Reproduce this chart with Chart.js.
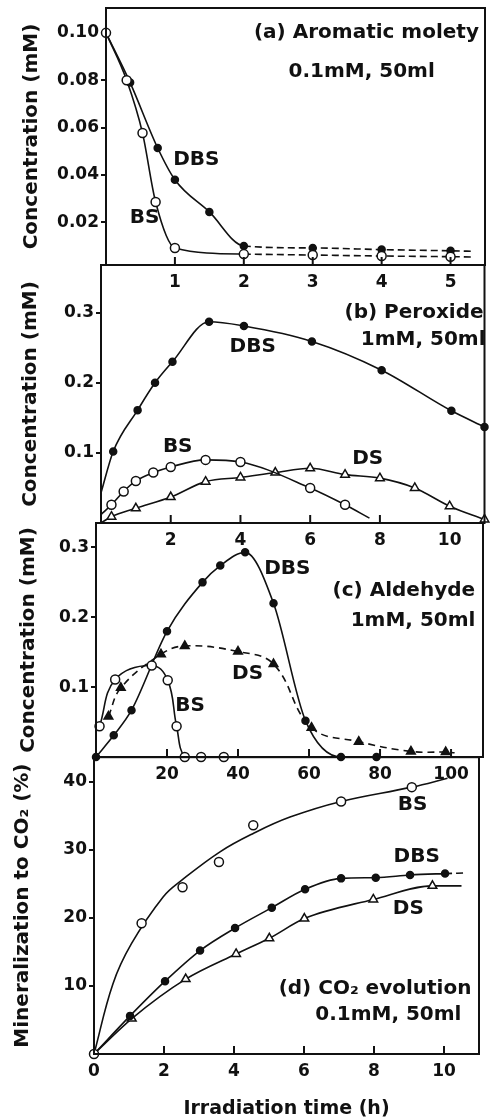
<!DOCTYPE html>
<html>
<head>
<meta charset="utf-8">
<script src="https://cdn.jsdelivr.net/npm/chart.js@4.4.1/dist/chart.umd.min.js"></script>
<style>
html, body { margin: 0; padding: 0; background: #fff; overflow: hidden; }
body { width: 491px; height: 1117px; position: relative; }
.panel { position: absolute; left: 0; width: 491px; }
canvas { display: block; }
</style>
</head>
<body>
<div class="panel" style="top:-5px;height:305px"><canvas id="chA" width="491" height="305"></canvas></div>
<div class="panel" style="top:250px;height:300px"><canvas id="chB" width="491" height="300"></canvas></div>
<div class="panel" style="top:510px;height:280px"><canvas id="chC" width="491" height="280"></canvas></div>
<div class="panel" style="top:745px;height:375px"><canvas id="chD" width="491" height="375"></canvas></div>
<script>
// --- (a) Aromatic moiety, time (h) / conc (mM) ---
const aTimeDBS = [0, 0.35, 0.75, 1, 1.5, 2, 3, 4, 5, 5.3];
const aDBS = [0.100, 0.079, 0.0514, 0.038, 0.0244, 0.0100, 0.0092, 0.0085, 0.0080, 0.0078];
const aTimeBS = [0, 0.3, 0.53, 0.72, 1, 2, 3, 4, 5, 5.3];
const aBS = [0.100, 0.080, 0.0577, 0.0286, 0.0092, 0.0066, 0.0062, 0.0058, 0.0055, 0.0054];
const aTicksX = [1, 2, 3, 4, 5];
const aTicksY = [0.02, 0.04, 0.06, 0.08, 0.10];

// --- (b) Peroxide, time (h) / conc (mM) ---
const bTimeDBS = [0, 0.35, 1.05, 1.55, 2.05, 3.1, 4.1, 6.05, 8.05, 10.05, 11];
const bDBS = [0.043, 0.102, 0.161, 0.200, 0.230, 0.287, 0.281, 0.259, 0.218, 0.160, 0.137];
const bTimeBS = [0, 0.3, 0.65, 1, 1.5, 2, 3, 4, 6, 7, 7.7];
const bBS = [0.012, 0.026, 0.045, 0.060, 0.072, 0.080, 0.090, 0.087, 0.050, 0.026, 0.007];
const bTimeDS = [0, 0.3, 1, 2, 3, 4, 5, 6, 7, 8, 9, 10, 11];
const bDS = [0, 0.009, 0.021, 0.037, 0.059, 0.065, 0.072, 0.078, 0.069, 0.064, 0.050, 0.024, 0.005];
const bTicksX = [2, 4, 6, 8, 10];
const bTicksY = [0.1, 0.2, 0.3];

// --- (c) Aldehyde, time (min) / conc (mM) ---
const cTimeDBS = [0, 5, 10, 20, 30, 35, 42, 50, 59, 69, 79];
const cDBS = [0, 0.031, 0.067, 0.180, 0.250, 0.274, 0.293, 0.220, 0.052, 0, 0];
const cTimeBS = [1, 5.4, 15.7, 20.2, 22.7, 25, 29.6, 36];
const cBS = [0.044, 0.111, 0.131, 0.110, 0.044, 0, 0, 0];
const cTimeDS = [3.5, 7, 18.3, 25, 40, 50, 60.7, 74, 88.7, 98.5, 101];
const cDS = [0.058, 0.099, 0.147, 0.159, 0.151, 0.133, 0.042, 0.022, 0.008, 0.007, 0.006];
const cTicksX = [20, 40, 60, 80, 100];
const cTicksY = [0.1, 0.2, 0.3];

// --- (d) CO2 evolution, time (h) / mineralization (%) ---
const dTimeBS = [0, 1.36, 2.53, 3.57, 4.55, 7.06, 9.08];
const dBS = [0, 19.2, 24.5, 28.2, 33.6, 37.1, 39.2];
// BS fitted curve as drawn (markers scatter around it)
const dFitTimeBS = [0, 0.54, 1.07, 1.98, 2.5, 3.6, 4.55, 5.6, 7.06, 9.08, 10.1];
const dFitBS = [0, 10.3, 16.2, 23.1, 25.5, 29.7, 32.4, 34.8, 37.1, 39.2, 40.5];
const dTimeDBS = [0, 1.03, 2.03, 3.03, 4.03, 5.08, 6.03, 7.06, 8.05, 9.03, 10.03, 10.65];
const dDBS = [0, 5.6, 10.7, 15.2, 18.5, 21.5, 24.2, 25.8, 25.9, 26.3, 26.5, 26.6];
const dTimeDS = [0, 1.08, 2.62, 4.06, 5.01, 6.01, 7.98, 9.67, 10.5];
const dDS = [0, 5.2, 11.0, 14.7, 17.0, 19.9, 22.7, 24.7, 24.7];
const dTicksX = [0, 2, 4, 6, 8, 10];
const dTicksY = [10, 20, 30, 40];

const FONT = '"DejaVu Sans", "Liberation Sans", sans-serif';
const INK = '#111';

// one curve with its markers
function series(xs, ys, mark, opt = {}) {
  const bare = opt.bare || [];
  const r = mark === 'dot' ? 3.5 : mark === 'ring' ? 4.5 : mark === 'none' ? 0 : 5;
  const ds = {
    data: xs.map((t, i) => ({ x: t, y: ys[i] })),
    showLine: !opt.noLine,
    borderColor: INK,
    borderWidth: 1.6,
    borderDash: opt.dash || [],
    pointStyle: (mark === 'tri' || mark === 'solidTri') ? 'triangle' : 'circle',
    pointRadius: c => bare.includes(c.dataIndex) ? 0 : r,
    pointBackgroundColor: (mark === 'dot' || mark === 'solidTri') ? INK : '#fff',
    pointBorderColor: INK,
    pointBorderWidth: 1.5,
    cubicInterpolationMode: opt.smooth ? 'default' : 'monotone',
    tension: 0.4,
    fill: false,
    clip: 10,
  };
  if (opt.dashFrom != null) {
    ds.segment = { borderDash: c => c.p0.parsed.x >= opt.dashFrom ? [7, 4] : undefined };
  }
  return ds;
}

// box + inward ticks on the time axis
const framePlugin = {
  id: 'frame',
  afterDraw(chart) {
    const { ctx, chartArea: a, scales: { x } } = chart;
    ctx.save();
    ctx.strokeStyle = INK;
    ctx.lineWidth = 2;
    ctx.strokeRect(a.left, a.top, a.right - a.left, a.bottom - a.top);
    x.ticks.forEach(t => {
      const px = x.getPixelForValue(t.value);
      ctx.beginPath();
      ctx.moveTo(px, a.bottom);
      ctx.lineTo(px, a.bottom - 8);
      ctx.stroke();
    });
    ctx.restore();
  }
};

// text labels placed in data units
function notes(items) {
  return {
    id: 'notes',
    afterDatasetsDraw(chart) {
      const { ctx, scales: { x, y } } = chart;
      ctx.save();
      ctx.fillStyle = INK;
      ctx.textAlign = 'center';
      ctx.textBaseline = 'middle';
      items.forEach(n => {
        ctx.font = 'bold ' + (n.size || 20) + 'px ' + FONT;
        ctx.fillText(n.text, x.getPixelForValue(n.x), y.getPixelForValue(n.y));
      });
      ctx.restore();
    }
  };
}

function panel(id, o) {
  const cv = document.getElementById(id);
  const tickFont = { family: FONT, size: 17, weight: 'bold' };
  return new Chart(cv, {
    type: 'line',
    data: { datasets: o.datasets },
    options: {
      responsive: false,
      animation: false,
      layout: { padding: { top: o.padTop, right: o.padRight, left: 0, bottom: 0 } },
      plugins: { legend: { display: false }, tooltip: { enabled: false } },
      scales: {
        x: {
          type: 'linear',
          min: o.xMin, max: o.xMax,
          afterBuildTicks: s => { s.ticks = o.xTicks.map(v => ({ value: v })); },
          afterFit: s => { s.height = o.xH; },
          grid: { display: false },
          border: { display: false },
          ticks: { color: INK, font: tickFont, padding: -1, maxRotation: 0, autoSkip: false,
                   callback: v => String(v) },
          title: o.xTitle
            ? { display: true, text: o.xTitle, color: INK, font: { family: FONT, size: 19, weight: 'bold' },
                padding: { top: 0, bottom: 0 } }
            : { display: false }
        },
        y: {
          type: 'linear',
          min: o.yMin, max: o.yMax,
          afterBuildTicks: s => { s.ticks = o.yTicks.map(v => ({ value: v })); },
          afterFit: s => { s.width = o.yW; },
          grid: { display: true, drawOnChartArea: false, tickLength: 5, lineWidth: 2, color: INK },
          border: { display: false },
          ticks: { color: INK, font: tickFont, padding: 2, callback: v => v.toFixed(o.yDec) },
          title: { display: true, text: o.yTitle, color: INK, font: { family: FONT, size: 20, weight: 'bold' },
                   padding: { top: o.yTitlePad, bottom: 0 } }
        }
      }
    },
    plugins: [framePlugin, notes(o.notes)]
  });
}

panel('chA', {
  datasets: [
    series(aTimeBS, aBS, 'ring', { bare: [9], dashFrom: 2 }),
    series(aTimeDBS, aDBS, 'dot', { bare: [9], dashFrom: 2 }),
  ],
  xMin: 0, xMax: 5.5, yMin: 0.002, yMax: 0.1105,
  xTicks: aTicksX, yTicks: aTicksY, yDec: 2,
  padTop: 13, padRight: 4, yW: 106, xH: 35, yTitlePad: 20,
  yTitle: 'Concentration (mM)',
  notes: [
    { text: '(a) Aromatic molety', x: 3.78, y: 0.0999 },
    { text: '0.1mM, 50ml', x: 3.71, y: 0.0834 },
    { text: 'DBS', x: 1.31, y: 0.0463 },
    { text: 'BS', x: 0.56, y: 0.0218 },
  ]
});

panel('chB', {
  datasets: [
    series(bTimeBS, bBS, 'ring', { bare: [0, 10] }),
    series(bTimeDS, bDS, 'tri', { bare: [0] }),
    series(bTimeDBS, bDBS, 'dot', { bare: [0] }),
  ],
  xMin: 0, xMax: 11, yMin: 0, yMax: 0.368,
  xTicks: bTicksX, yTicks: bTicksY, yDec: 1,
  padTop: 15, padRight: 6, yW: 101, xH: 27, yTitlePad: 19,
  yTitle: 'Concentration (mM)',
  notes: [
    { text: '(b) Peroxide', x: 8.98, y: 0.2995 },
    { text: '1mM, 50ml', x: 9.24, y: 0.261 },
    { text: 'DBS', x: 4.35, y: 0.252 },
    { text: 'BS', x: 2.2, y: 0.109 },
    { text: 'DS', x: 7.65, y: 0.092 },
  ]
});

panel('chC', {
  datasets: [
    series(cTimeBS, cBS, 'ring', { smooth: true }),
    series(cTimeDBS, cDBS, 'dot'),
    series(cTimeDS, cDS, 'solidTri', { bare: [10], dash: [7, 5], smooth: true }),
  ],
  xMin: 0, xMax: 109, yMin: 0, yMax: 0.335,
  xTicks: cTicksX, yTicks: cTicksY, yDec: 1,
  padTop: 13, padRight: 8, yW: 96, xH: 33, yTitlePad: 17,
  yTitle: 'Concentration (mM)',
  notes: [
    { text: '(c) Aldehyde', x: 86.7, y: 0.2377 },
    { text: '1mM, 50ml', x: 89.3, y: 0.1947 },
    { text: 'DBS', x: 53.9, y: 0.270 },
    { text: 'DS', x: 42.7, y: 0.1198 },
    { text: 'BS', x: 26.5, y: 0.0735 },
  ]
});

panel('chD', {
  datasets: [
    series(dTimeBS, dBS, 'ring', { noLine: true }),
    series(dFitTimeBS, dFitBS, 'none', { smooth: true }),
    series(dTimeDBS, dDBS, 'dot', { bare: [0, 11], dashFrom: 10 }),
    series(dTimeDS, dDS, 'tri', { bare: [0, 8] }),
  ],
  xMin: 0, xMax: 11, yMin: 0, yMax: 43.6,
  xTicks: dTicksX, yTicks: dTicksY, yDec: 0,
  padTop: 12, padRight: 12, yW: 94, xH: 66, yTitlePad: 11,
  yTitle: 'Mineralization to CO₂ (%)',
  xTitle: 'Irradiation time (h)',
  notes: [
    { text: 'BS', x: 9.1, y: 36.55 },
    { text: 'DBS', x: 9.22, y: 28.96 },
    { text: 'DS', x: 8.98, y: 21.4 },
    { text: '(d) CO₂ evolution', x: 8.03, y: 9.64 },
    { text: '0.1mM, 50ml', x: 8.41, y: 5.73 },
  ]
});
</script>
</body>
</html>
